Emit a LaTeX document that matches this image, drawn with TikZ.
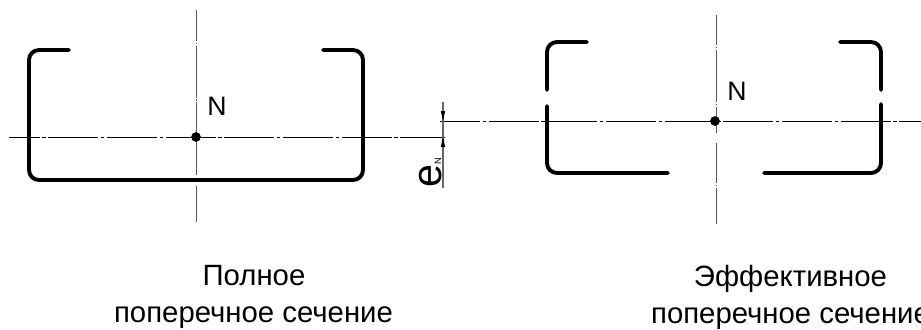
\documentclass[tikz,border=0pt]{standalone}
\usepackage{fontspec}
\setmainfont{Liberation Sans}
\tikzset{
  prof/.style={line width=2.9pt,line cap=round,line join=round,black,rounded corners=7.5pt},
  axis/.style={line width=0.7pt,black!65},
  axish/.style={line width=0.7pt,black},
  lbl/.style={font=\fontsize{22}{26}\selectfont,text=black,inner sep=0pt,anchor=base},
  nlbl/.style={font=\fontsize{20}{24}\selectfont,text=black,inner sep=0pt,anchor=base},
  dot/.style={circle,fill=black,draw=none,minimum size=7.3pt,inner sep=0pt},
}
\begin{document}
\begin{tikzpicture}[x=0.75pt,y=-0.75pt]
\useasboundingbox (0,0) rectangle (921,329);
% axes
\coordinate (LT) at (196,10); \coordinate (LB) at (196,222);
\coordinate (LL) at (9,137); \coordinate (LR) at (445,137);
\coordinate (RT) at (716,15); \coordinate (RB) at (716,224);
\coordinate (RL) at (440,121); \coordinate (RR) at (921,121);
\draw[axis,dash pattern=on 23.25pt off 1.5pt on .75pt off 1.5pt on 39pt off 1pt on 1pt off 1pt on 54.4pt off 8.3pt on 30pt] (LT) -- (LB);
\draw[axis,dash pattern=on 22.5pt off 1.5pt on .75pt off 1.5pt on 39pt off 1.5pt on .75pt off 1.5pt on 19.5pt off 7.5pt on 30pt off 1.5pt on .75pt off 1.5pt on 30pt] (RT) -- (RB);
\draw[axish,dash pattern=on 37.5pt off 2pt on 2.5pt off 2pt,dash phase=14.5pt] (LL) -- (LR);
\draw[axish,dash pattern=on 37.5pt off 2pt on 2.5pt off 2pt,dash phase=7.5pt] (RL) -- (RR);
% left profile
\draw[prof] (69,50) -- (29,50) -- (29,180) -- (363,180) -- (363,50) -- (323,50);
% right profile
\draw[prof] (587,42) -- (547,42) -- (547,90);
\draw[prof] (547,106) -- (547,173) -- (668,173);
\draw[prof] (840,42) -- (881,42) -- (881,90);
\draw[prof] (881,104) -- (881,173) -- (764,173);
% points
\node[dot] (NL) at (196,137) {};
\node[dot] (NR) at (715,121) {};
\node[nlbl] (NLt) at (217,115) {N};
\node[nlbl] (NRt) at (737,100) {N};
% dimension
\coordinate (DT) at (443,102); \coordinate (DB) at (443,188);
\coordinate (DA) at (443,121); \coordinate (DC) at (443,137);
\draw[line width=0.9pt,black!60] (DT) -- (DB);
\fill (DA) -- ++(-2.2,-10) -- ++(4.4,0) -- cycle;
\fill (DC) -- ++(-2.2,10) -- ++(4.4,0) -- cycle;
\node[rotate=90,anchor=base west,inner sep=0pt,font=\fontsize{31}{31}\selectfont] (E) at (441,188) {e};
\node[rotate=90,anchor=base west,inner sep=0pt,font=\fontsize{7}{7}\selectfont] (EN) at (441,164.5) {N};
% captions
\node[lbl] (C1) at (254,285) {Полное};
\node[lbl] (C2) at (253.5,322) {поперечное сечение};
\node[lbl] (C3) at (790.5,286) {Эффективное};
\node[lbl] (C4) at (790.5,323.5) {поперечное сечение};
\end{tikzpicture}
\end{document}
